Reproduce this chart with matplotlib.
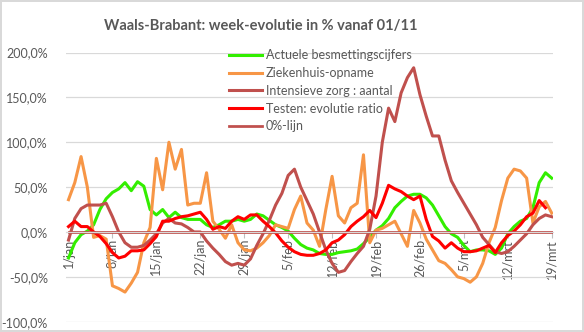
import numpy as np
import matplotlib
matplotlib.use("Agg")
import matplotlib.pyplot as plt

# -------------------------------------------------------------------
# data: week-evolution (%) per day, 1/jan .. 19/mrt
# -------------------------------------------------------------------
tick_labels = ["1/jan", "8/jan", "15/jan", "22/jan", "29/jan", "5/feb",
               "12/feb", "19/feb", "26/feb", "5/mrt", "12/mrt", "19/mrt"]

besmettingen = [-29, -12, -3, 1, 8, 25, 37, 44, 48, 55, 46, 56, 51, 25, 19, 25,
                16, 22, 16, 14, 14, 14, 8, 5, 8, 12, 12, 14, 12, 14, 20, 18,
                13, 8, 5, 1, -7, -14, -18, -20, -24, -25, -25, -23, -22, -21,
                -19, -13, -6, 2, 7, 15, 27, 34, 40, 42, 42, 38, 30, 18, 6, -2,
                -6, -15, -22, -20, -20, -21, -25, -18, -2, 6, 12, 15, 27, 55,
                66, 60]

ziekenhuis = [36, 55, 84, 50, -6, -4, -8, -60, -63, -67, -57, -45, -12, 5, 82,
              47, 100, 70, 92, 30, 32, 32, 66, 12, 3, -7, 8, -12, -20, -21,
              -18, -12, -4, 8, 6, 4, 25, 40, 10, 2, -16, 25, 62, 18, 10, 27,
              32, 86, -12, 2, 4, 8, 12, -2, -16, 24, 10, -8, -20, -32, -35,
              -42, -50, -52, -56, -50, -35, -12, 5, 35, 60, 70, 68, 60, 10, 28,
              34, 21]

intensieve_zorg = [-9, 15, 26, 30, 30, 30, 32, 17, 0, -12, -17, -17, -15, -9,
                   -2, 10, 15, 10, 9, 5, 0, 0, -10, -18, -25, -33, -37, -35,
                   -37, -30, -15, -2, 13, 30, 43, 63, 70, 50, 35, 20, 0, -20,
                   -35, -45, -43, -33, -24, -16, 3, 40, 100, 138, 123, 155,
                   172, 183, 153, 129, 107, 107, 80, 57, 44, 32, 20, 8, -6,
                   -14, -22, -24, -22, -16, -9, -2, 8, 15, 19, 17]

testen = [6, 12, 6, 6, 0, -5, -13, -23, -29, -27, -21, -21, -20, -13, -5, 12,
          12, 15, 17, 18, 20, 22, 14, 3, 6, 4, 12, 17, 14, 19, 19, 12, 6, -1,
          -10, -17, -22, -25, -26, -26, -24, -20, -12, -9, -3, 6, 12, 17, 24,
          16, 32, 52, 48, 45, 40, 36, 40, 14, -5, -10, -18, -12, -18, -22,
          -22, -21, -18, -15, -23, -12, -4, 1, 8, 17, 21, 35, 27]

nul_lijn = [0] * len(besmettingen)

days = np.arange(len(besmettingen))

# -------------------------------------------------------------------
# figure
# -------------------------------------------------------------------
plt.rcParams['font.family'] = ['Lato', 'DejaVu Sans']
grey = '#595959'

fig = plt.figure(figsize=(5.84, 3.32), dpi=100)
fig.patch.set_edgecolor('#D9D9D9')
fig.patch.set_linewidth(1.5)
ax = fig.add_axes([66 / 584, 1 - 321.7 / 332, (553 - 66) / 584, (321.7 - 52.5) / 332])

lw = 2.2
ax.plot(days, besmettingen, color='#33EE00', lw=lw, label='Actuele besmettingscijfers')
ax.plot(days, ziekenhuis, color='#F79646', lw=lw, label='Ziekenhuis-opname')
ax.plot(days, intensieve_zorg, color='#C0504D', lw=lw, label='Intensieve zorg : aantal')
ax.plot(days[:len(testen)], testen, color='#FF0000', lw=lw, label='Testen: evolutie ratio')
ax.plot(days, nul_lijn, color='#C0504D', lw=lw * 0.9, label='0%-lijn')

ax.set_ylim(-100, 200)
ax.set_xlim(-0.4, 77.2)
ax.set_yticks(np.arange(-100, 201, 50))
ax.set_yticklabels([f"{v:.1f}%".replace('.', ',') for v in np.arange(-100, 201, 50)])
ax.yaxis.grid(True, color='#D9D9D9', lw=0.9)
ax.set_axisbelow(True)

for s in ['top', 'right', 'left']:
    ax.spines[s].set_visible(False)
ax.spines['bottom'].set_position(('data', 0))
ax.spines['bottom'].set_color('#D9D9D9')

ax.set_xticks(days[::7])
ax.set_xticklabels(tick_labels, rotation=90)
ax.tick_params(axis='x', colors='#BFBFBF', length=4, labelsize=9, labelcolor=grey, pad=1)
ax.tick_params(axis='y', length=0, labelsize=9, labelcolor=grey, pad=13)

leg = fig.legend(loc='upper left', bbox_to_anchor=(229 / 584, 1 - 49 / 332),
                 frameon=False, fontsize=9, handlelength=2.6, handletextpad=0.35,
                 labelspacing=0.47, borderpad=0, borderaxespad=0)
for t in leg.get_texts():
    t.set_color(grey)

fig.text(261 / 584, 1 - 26 / 332, "Waals-Brabant: week-evolutie in % vanaf 01/11",
         ha='center', va='center', fontsize=10.5, fontweight='bold', color=grey)

fig.savefig('out.png', dpi=100)
